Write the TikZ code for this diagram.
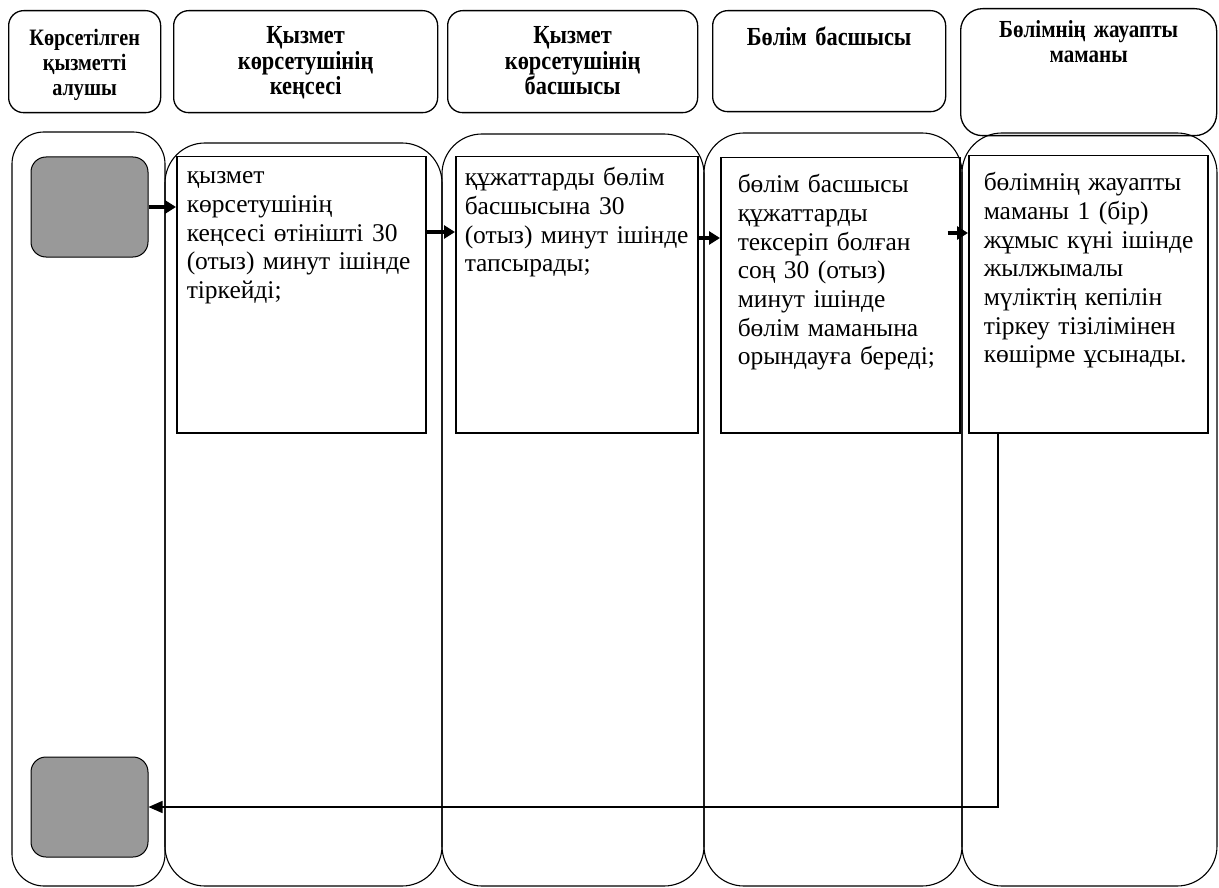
\documentclass[tikz,border=0pt]{standalone}
\usepackage{fontspec}
\setmainfont{Liberation Serif}
\newfontfamily\headfont[FakeStretch=0.86]{Liberation Serif}
\usepackage{tikz}
\usetikzlibrary{arrows.meta}

\begin{document}
\begin{tikzpicture}[x=1pt,y=-1pt,
    head/.style={draw,rounded corners=15pt,line width=1.3pt,align=center,inner xsep=4pt,inner ysep=0pt,
        anchor=north west,font=\headfont\bfseries\fontsize{26}{25.5}\selectfont},
    txtbox/.style={draw,line width=1.5pt,align=left,inner ysep=0pt,anchor=north west,
        font=\fontsize{25.5}{28.7}\selectfont},
    lane/.style={draw,line width=1.1pt,rounded corners=40pt},
    endbox/.style={draw,fill=black!40,rounded corners=15pt,minimum width=117pt,minimum height=100pt,line width=1pt},
    flow/.style={line width=3.3pt,-{Triangle[length=11pt,width=13pt]}},
    back/.style={line width=1.3pt,-{Triangle[length=14pt,width=12pt]}}]
                \useasboundingbox (0,0) rectangle (1219,888);
                % swim lanes
                \draw[lane,rounded corners=32pt] (12,132) rectangle (165,886);
                \draw[lane] (165,143) rectangle (442,886);
                \draw[lane] (442,134) rectangle (704,886);
                \draw[lane] (704,133) rectangle (962,886);
                \draw[lane] (962,133) rectangle (1217,886);
                % lane headers
                \node[head,font=\headfont\bfseries\fontsize{23.5}{25}\selectfont,text width=144pt,text height=35pt,text depth=67pt] (hA) at (8,10) {Көрсетілген\\қызметті\\алушы};
                \node[head,text width=256pt,text height=33pt,text depth=69pt] (hB) at (173,10) {Қызмет\\көрсетушінің\\кеңсесі};
                \node[head,text width=242pt,text height=33pt,text depth=69pt] (hC) at (447,10) {Қызмет\\көрсетушінің\\басшысы};
                \node[head,text width=225pt,text height=35pt,text depth=66pt] (hD) at (712,10) {Бөлім басшысы};
                \node[head,font=\headfont\bfseries\fontsize{24.5}{25}\selectfont,rounded corners=22pt,text width=248pt,text height=29pt,text depth=98pt] (hE) at (960,8) {Бөлімнің жауапты\\маманы};
                % steps
                \node[txtbox,text width=229pt,inner xsep=10pt,text height=27pt,text depth=249pt] (b1) at (176,156)
                    {қызмет\\көрсетушінің\\кеңсесі~өтінішті~30\\(отыз)~минут~ішінде\\тіркейді;};
                \node[txtbox,text width=224pt,inner xsep=9pt,text height=29pt,text depth=247pt] (b2) at (455,156)
                    {құжаттарды~бөлім\\басшысына~30\\(отыз)~минут~ішінде\\тапсырады;};
                \node[txtbox,text width=205pt,inner xsep=17pt,text height=35pt,text depth=240pt] (b3) at (720,157)
                    {бөлім~басшысы\\құжаттарды\\тексеріп~болған\\соң~30~(отыз)\\минут~ішінде\\бөлім~маманына\\орындауға~береді;};
                \node[txtbox,text width=209pt,inner xsep=15pt,text height=35pt,text depth=242pt] (b4) at (968,155)
                    {бөлімнің~жауапты\\маманы~1~(бір)\\жұмыс~күні~ішінде\\жылжымалы\\мүліктің~кепілін\\тіркеу~тізілімінен\\көшірме~ұсынады.};
                \node[endbox] (g1) at (89.5,207) {};
                \node[endbox] (g2) at (89.5,807) {};
                % arrows
                \draw[flow] (g1.east) -- (g1.east -| b1.west);
                \coordinate (a2) at ([yshift=-76pt]b1.north east);
                \draw[flow] (a2) -- (a2 -| b2.west);
                \coordinate (a3) at ([yshift=-82pt]b2.north east);
                \draw[flow] (a3) -- (a3 -| b3.west);
                \coordinate (a4) at ([xshift=-13pt,yshift=-76pt]b3.north east);
                \draw[flow] (a4) -- (a4 -| b4.west);
                \draw[back] ([xshift=30pt]b4.south west) |- (g2.east);
            \end{tikzpicture}
\end{document}
